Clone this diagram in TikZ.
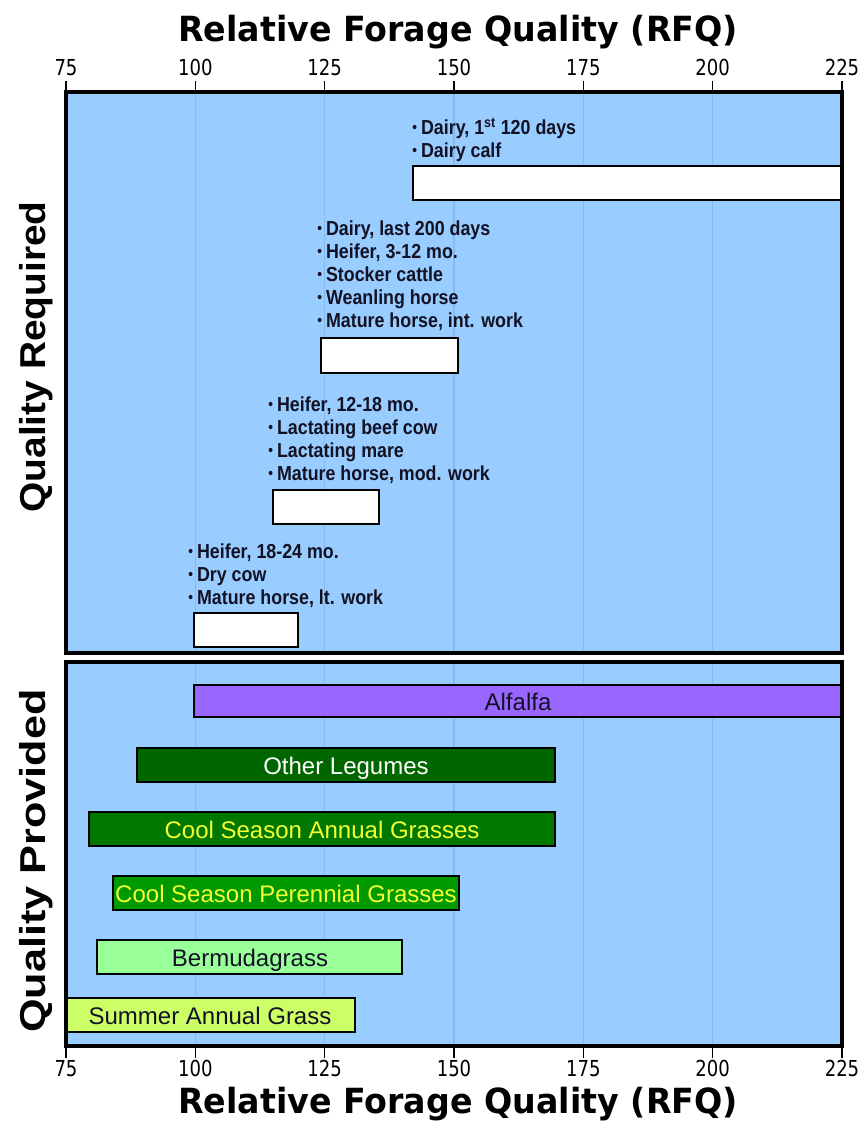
\documentclass[tikz,border=0pt]{standalone}
\usepackage{fontspec}
\setmainfont{Liberation Sans}
\newfontfamily\djv{DejaVu Sans}
\definecolor{panelbg}{HTML}{99CCFF}
\definecolor{gridc}{HTML}{86B9EE}
\definecolor{alf}{HTML}{9966FF}
\definecolor{leg}{HTML}{006600}
\definecolor{csa}{HTML}{007800}
\definecolor{csp}{HTML}{009A00}
\definecolor{berm}{HTML}{99FF99}
\definecolor{sag}{HTML}{CCFF66}
\definecolor{txtyel}{HTML}{F2FF33}
\definecolor{inkc}{HTML}{121224}
\newcommand{\bul}{\makebox[7.5pt][l]{\raisebox{0.15ex}{\scalebox{0.75}{\textbullet}}}}
\newcommand{\itm}[1]{\scalebox{0.88}[1]{\bul#1}}
\begin{document}
\begin{tikzpicture}[x=0.75pt,y=-0.75pt,
  frame/.style={draw=black,line width=2.3pt},
  gridline/.style={draw=gridc,line width=0.8pt},
  reqbar/.style={draw=black,fill=white,line width=2.1pt},
  provbar/.style={draw=black,line width=1.9pt},
  item/.style={anchor=base west,inner sep=0pt,text=inkc,font=\bfseries\fontsize{15.2}{17}\selectfont},
  barlabel/.style={anchor=base,inner sep=0pt,font=\fontsize{18}{20}\selectfont},
  tickmark/.style={line width=1.1pt},
  ticklabel/.style={anchor=base,inner sep=0pt,font=\djv\fontsize{16.5}{17}\selectfont},
  axtitle/.style={anchor=base,inner sep=0pt,font=\djv\bfseries\fontsize{26}{28}\selectfont},
  sidetitle/.style={anchor=base,rotate=90,inner sep=0pt,font=\bfseries\fontsize{27}{29}\selectfont}]
\useasboundingbox[fill=white] (0,0) rectangle (867,1128);

% panels
\fill[panelbg] (66,92) rectangle (842,653);
\fill[panelbg] (66,662) rectangle (842,1046);
\foreach \x in {195.3,324.7,454,583.3,712.7}{
  \draw[gridline] (\x,92) -- (\x,653);
  \draw[gridline] (\x,662) -- (\x,1046);
}

% axis ticks and labels
\foreach \v/\x in {75/66,100/195.3,125/324.7,150/454,175/583.3,200/712.7,225/842}{
  \draw[tickmark] (\x,81) -- (\x,92);
  \draw[tickmark] (\x,1046) -- (\x,1058);
  \node[ticklabel] (tt\v) at (\x,75) {\scalebox{0.82}[1]{\v}};
  \node[ticklabel] (tb\v) at (\x,1076) {\scalebox{0.82}[1]{\v}};
}
\node[axtitle] (toptitle) at (458,41) {\scalebox{0.96}[1]{Relative Forage Quality (RFQ)}};
\node[axtitle] (bottitle) at (458,1113) {\scalebox{0.96}[1]{Relative Forage Quality (RFQ)}};

\node[sidetitle] (qreq) at (45,357) {\scalebox{1.08}[1]{Quality Required}};
\node[sidetitle] (qprov) at (45,861) {\scalebox{1.2}[1]{Quality Provided}};

% quality required bars
\draw[reqbar] (413,166) rectangle (842,200);
\draw[reqbar] (321,338) rectangle (458,373);
\draw[reqbar] (273,490) rectangle (379,524);
\draw[reqbar] (194,613) rectangle (298,647);

\node[item] (a1) at (412,134) {\itm{Dairy, 1\textsuperscript{st} 120 days}};
\node[item] (a2) at (412,157) {\itm{Dairy calf}};

\node[item] (b1) at (317,235) {\itm{Dairy, last 200 days}};
\node[item] (b2) at (317,258) {\itm{Heifer, 3-12 mo.}};
\node[item] (b3) at (317,281) {\itm{Stocker cattle}};
\node[item] (b4) at (317,304) {\itm{Weanling horse}};
\node[item] (b5) at (317,327) {\itm{Mature horse, int. work}};

\node[item] (c1) at (268,411) {\itm{Heifer, 12-18 mo.}};
\node[item] (c2) at (268,434) {\itm{Lactating beef cow}};
\node[item] (c3) at (268,457) {\itm{Lactating mare}};
\node[item] (c4) at (268,480) {\itm{Mature horse, mod. work}};

\node[item] (d1) at (188,558) {\itm{Heifer, 18-24 mo.}};
\node[item] (d2) at (188,581) {\itm{Dry cow}};
\node[item] (d3) at (188,604) {\itm{Mature horse, lt. work}};

% quality provided bars
\draw[provbar,fill=alf] (194,685) rectangle (842,717);
\node[barlabel,text=inkc] (alfalfa) at (518,710) {Alfalfa};
\draw[provbar,fill=leg] (137,748) rectangle (555,782);
\node[barlabel,text=white] (legumes) at (346,774) {Other Legumes};
\draw[provbar,fill=csa] (89,812) rectangle (555,846);
\node[barlabel,text=txtyel] (csag) at (322,838) {Cool Season Annual Grasses};
\draw[provbar,fill=csp] (113,876) rectangle (459,910);
\node[barlabel,text=txtyel] (cspg) at (286,902) {Cool Season Perennial Grasses};
\draw[provbar,fill=berm] (97,940) rectangle (402,974);
\node[barlabel,text=inkc] (bermuda) at (250,966) {Bermudagrass};
\draw[provbar,fill=sag] (66,998) rectangle (355,1032);
\node[barlabel,text=inkc] (summer) at (210,1024) {Summer Annual Grass};

% frames
\draw[frame] (66,92) rectangle (842,653);
\draw[frame] (66,662) rectangle (842,1046);
\end{tikzpicture}
\end{document}
